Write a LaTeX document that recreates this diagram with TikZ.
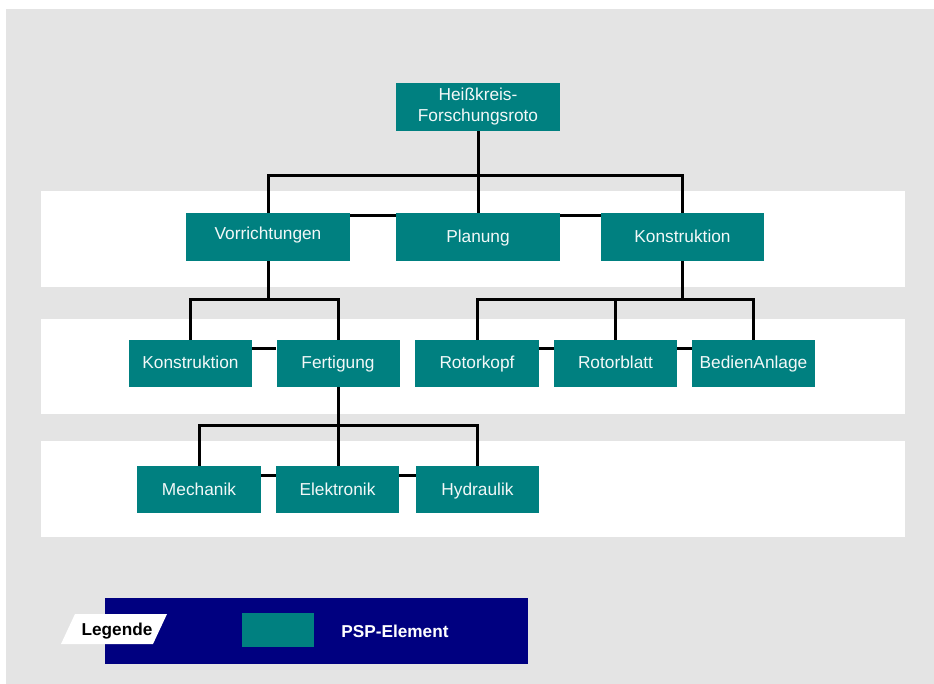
\documentclass[tikz,border=0pt]{standalone}
\usepackage{fontspec}
\setmainfont{Liberation Sans}
\definecolor{teal}{HTML}{008080}
\definecolor{navyb}{HTML}{000080}
\definecolor{bggray}{HTML}{E4E4E4}
\definecolor{nodetext}{HTML}{F2F8F8}
\tikzset{
  psp/.style={rectangle, fill=teal, text=nodetext, inner sep=0pt,
    minimum width=164pt, minimum height=48pt, align=center,
    font=\fontsize{17.3}{21}\selectfont},
  onerow/.style={text height=13.5pt, text depth=2.5pt},
  pspsmall/.style={psp, onerow, minimum width=123pt, minimum height=47pt},
  conn/.style={draw=black, line width=3pt},
  sib/.style={draw=black, line width=3pt},
  band/.style={fill=white},
  legtext/.style={font=\bfseries\fontsize{17.2}{20}\selectfont}
}
\begin{document}
\begin{tikzpicture}[x=1pt,y=-1pt]
\useasboundingbox (0,0) rectangle (934,684);
\fill[white] (0,0) rectangle (934,684);
\fill[bggray] (6,9) rectangle (934,684);
% bands
\fill[band] (41,191) rectangle (905,287);
\fill[band] (41,319) rectangle (905,414);
\fill[band] (41,441) rectangle (905,537);

% nodes
\node[psp] (top) at (478,107) {Heißkreis-\\Forschungsroto};
\node[psp, text height=11pt, text depth=5pt] (vor) at (268,237) {Vorrichtungen};
\node[psp, onerow] (plan) at (478,237) {Planung};
\node[psp, onerow, minimum width=163pt] (kon1) at (682.5,237) {Konstruktion};

\node[pspsmall] (kon2) at (190.5,363.5) {Konstruktion};
\node[pspsmall] (fert) at (338,363.5) {Fertigung};
\node[pspsmall, minimum width=124pt] (rk) at (477,363.5) {Rotorkopf};
\node[pspsmall] (rb) at (615.5,363.5) {Rotorblatt};
\node[pspsmall] (bed) at (753.5,363.5) {BedienAnlage};

\node[pspsmall, minimum width=124pt] (mech) at (199,489.5) {Mechanik};
\node[pspsmall] (elek) at (337.5,489.5) {Elektronik};
\node[pspsmall] (hyd) at (477.5,489.5) {Hydraulik};

% bracket coordinates
\coordinate (b1) at (478,176);
\coordinate (b2) at (268,300);
\coordinate (b3) at (682.5,300);
\coordinate (b4) at (338,425);

\path[conn] (top.south) -- (b1);
\path[conn] (vor.north) |- (b1) -| (kon1.north);
\path[conn] (b1) -- (plan.north);
\path[sib] ([yshift=-3pt]vor.north east) -- ([yshift=-3pt]plan.north west);
\path[sib] ([yshift=-3pt]plan.north east) -- ([yshift=-3pt]kon1.north west);

\path[conn] (vor.south) -- (b2);
\path[conn] (kon2.north) |- (b2) -| (fert.north);
\path[conn] (kon1.south) -- (b3);
\path[conn] (rk.north) |- (b3) -| (bed.north);
\path[conn] (rb.north) -- (rb.north |- b3);
\path[sib] ([yshift=-9pt]kon2.north east) -- ([yshift=-9pt]fert.north west);
\path[sib] ([yshift=-9pt]rk.north east) -- ([yshift=-9pt]rb.north west);
\path[sib] ([yshift=-9pt]rb.north east) -- ([yshift=-9pt]bed.north west);

\path[conn] (fert.south) -- (b4);
\path[conn] (b4) -- (b4 |- elek.north);
\path[conn] (mech.north) |- (b4) -| (hyd.north);
\path[sib] ([yshift=-10pt]mech.north east) -- ([yshift=-10pt]elek.north west);
\path[sib] ([yshift=-10pt]elek.north east) -- ([yshift=-10pt]hyd.north west);

% legend
\fill[navyb] (105,598) rectangle (528,664);
\node[fill=teal, minimum width=72pt, minimum height=34pt, inner sep=0pt] (swatch) at (278,630) {};
\node[text=white, legtext] (psplabel) at (395,631) {PSP-Element};
\fill[white] (61,644) -- (75,614) -- (167,614) -- (153,644) -- cycle;
\node[text=black, legtext] (leg) at (117,631) {Legende};
\end{tikzpicture}
\end{document}
